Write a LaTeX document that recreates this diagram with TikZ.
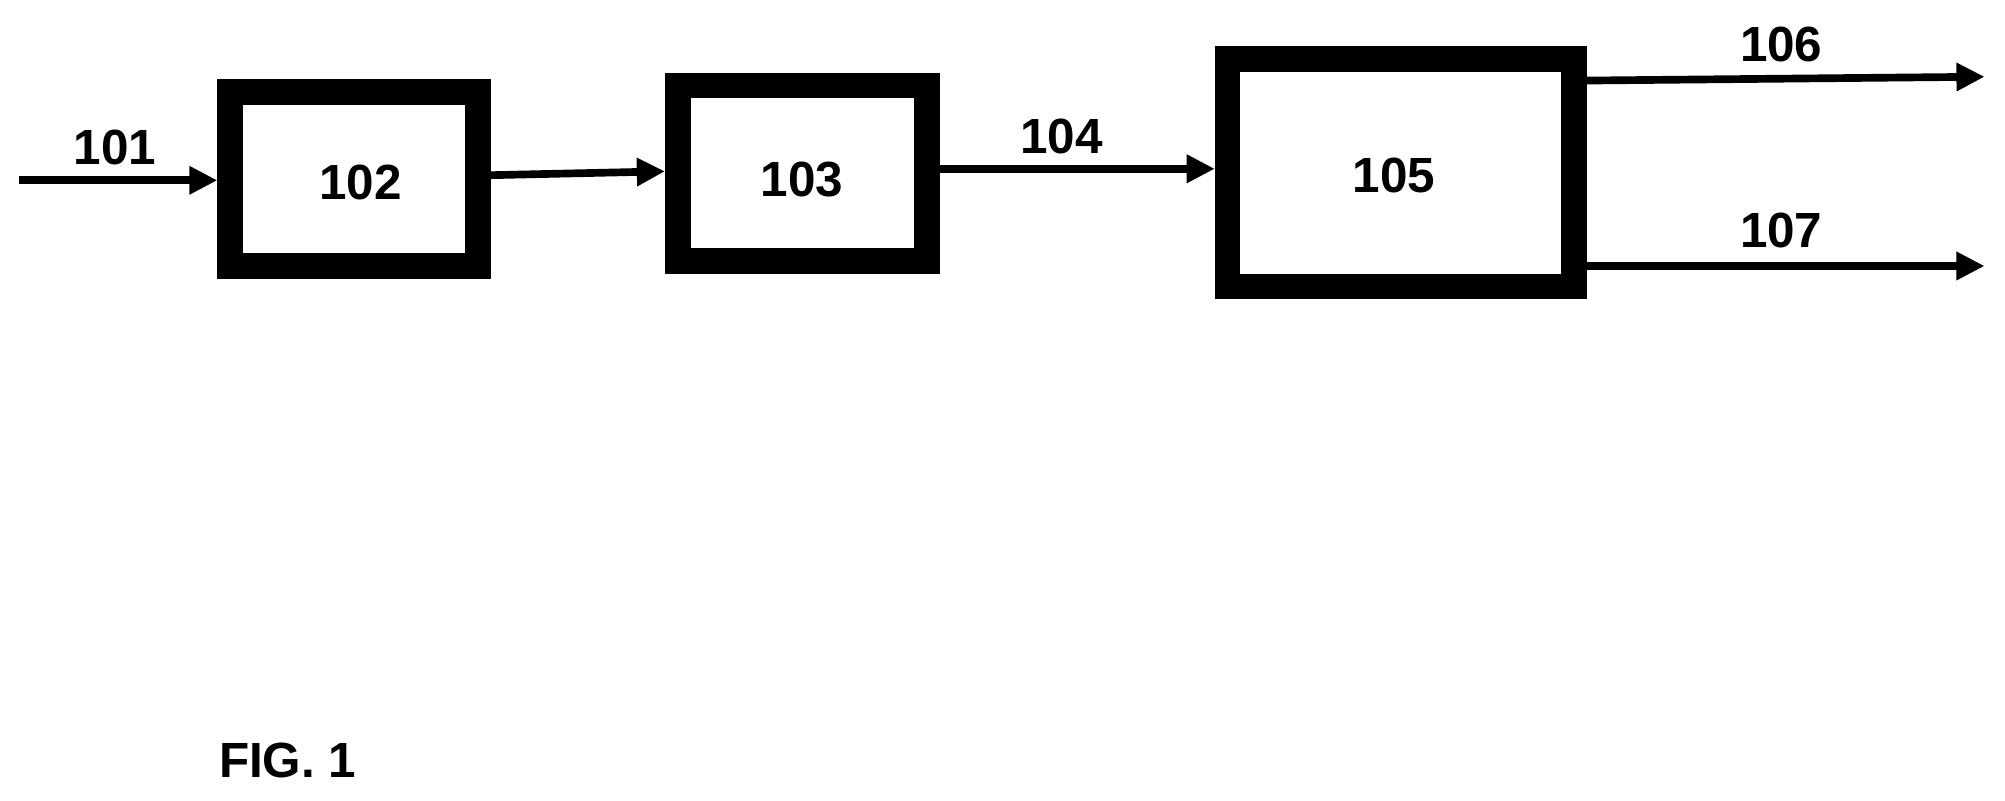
\documentclass[tikz,border=0pt]{standalone}
\usepackage{fontspec}
\setmainfont{Liberation Sans}
\usetikzlibrary{arrows.meta}
\begin{document}
\begin{tikzpicture}[x=0.02cm,y=-0.02cm,
 blk/.style={draw,line width=0.4cm,inner sep=0pt},
 lbl/.style={font=\bfseries\fontsize{22}{24}\selectfont,inner sep=0pt},
 flow/.style={line width=0.12cm,-{Triangle[length=0.44cm,width=0.42cm]}}]
\useasboundingbox (0,0) rectangle (1568,626);
\node[blk,minimum width=3.88cm,minimum height=2.72cm] (b102) at (277,140) {};
\node[blk,minimum width=3.9cm,minimum height=2.74cm] (b103) at (627.5,135.5) {};
\node[blk,minimum width=5.42cm,minimum height=3.56cm] (b105) at (1095.5,135) {};
\node[lbl] (t102) at (282,143) {102};
\node[lbl] (t103) at (627,140) {103};
\node[lbl] (t105) at (1090,137) {105};
\coordinate (s101) at (15,141);
\coordinate (e106) at (1552,60);
\coordinate (e107) at (1552,208);
\draw[flow] (s101) -- (b102.west |- s101);
\draw[flow] (b102.east |- 0,137) -- (b103.west |- 0,134);
\draw[flow] (b103.east |- 0,132) -- (b105.west |- 0,132);
\draw[flow] (b105.east |- 0,63) -- (e106);
\draw[flow] (b105.east |- e107) -- (e107);
\node[lbl] (t101) at (90,115) {101};
\node[lbl] (t104) at (830,107) {104};
\node[lbl] (t106) at (1393,35) {106};
\node[lbl] (t107) at (1393,180) {107};
\node[lbl] (fig) at (225,595) {FIG. 1};
\end{tikzpicture}
\end{document}
